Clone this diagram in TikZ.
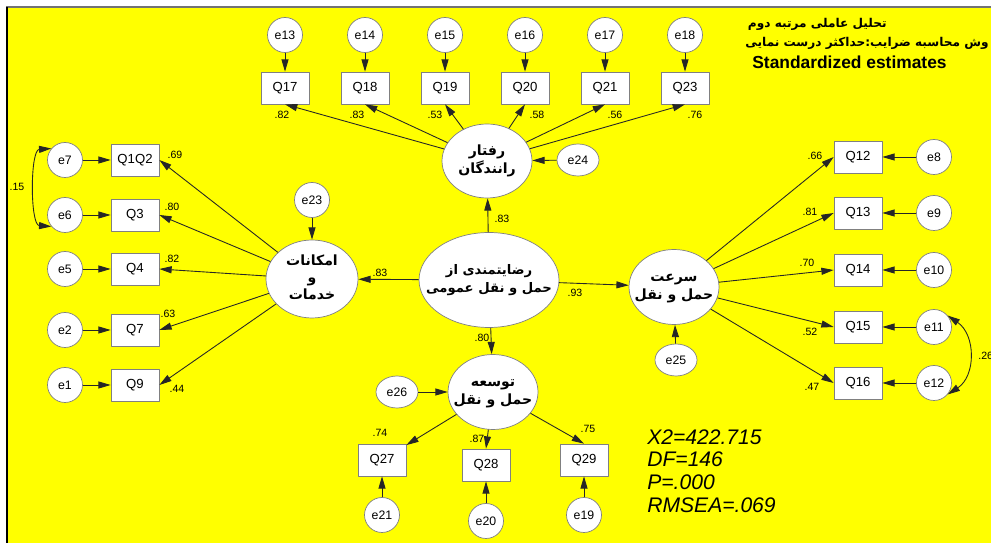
\documentclass[tikz,border=0pt]{standalone}
\usepackage{fontspec}
\setmainfont{Liberation Sans}
\newfontfamily\fafont[Script=Arabic]{DejaVu Sans}
\TeXXeTstate=1
\usetikzlibrary{arrows.meta,shapes.geometric}
\newcommand\rtltxt[1]{\beginR#1\endR}
\newcommand\lattxt[1]{\makebox[0pt]{\begin{tabular}{@{}c@{}}#1\end{tabular}}}
\definecolor{bgyellow}{RGB}{255,255,0}

\begin{document}
\begin{tikzpicture}[x=0.02cm,y=-0.02cm,>={Triangle[length=7pt,width=4pt]},line join=round,
	font=\fontsize{7.5}{9}\selectfont,
	obs/.style={draw=gray,fill=white,minimum width=0.96cm,minimum height=0.64cm,inner sep=0pt},
	err/.style={circle,draw=gray,fill=white,minimum size=0.7cm,inner sep=0pt,font=\fontsize{7}{8}\selectfont},
	errl/.style={ellipse,draw=gray,fill=white,minimum width=0.84cm,minimum height=0.64cm,inner sep=0pt,font=\fontsize{7}{8}\selectfont},
	lat/.style={ellipse,draw=gray,fill=white,inner sep=0pt,font=\fafont\bfseries\fontsize{8}{10.5}\selectfont},
	est/.style={font=\fontsize{6}{7}\selectfont,inner sep=0pt},
	link/.style={->,draw=black!85,line width=0.5pt}]
	\useasboundingbox (0,0) rectangle (991,543);
	\clip (0,0) rectangle (991,543);
	\fill[white] (0,0) rectangle (991,543);
	\fill[bgyellow] (7,7) rectangle (991,543);
	\draw[gray!90!black,line width=1.2pt] (6,7)--(991,7);
	\draw[line width=0.9pt] (7,7)--(7,543);
	% latent variables
	\node[lat,minimum width=2.8cm,minimum height=1.9cm,font=\fafont\bfseries\fontsize{7.5}{10.5}\selectfont] (sat) at (489,280) {\lattxt{\rtltxt{رضایتمندی از}\\\rtltxt{حمل و نقل عمومی}}};
	\node[lat,minimum width=1.8cm,minimum height=1.48cm] (rft) at (487,161) {\lattxt{\rtltxt{رفتار}\\\rtltxt{رانندگان}}};
	\node[lat,minimum width=1.84cm,minimum height=1.56cm,font=\fafont\bfseries\fontsize{8}{9.6}\selectfont] (emk) at (312,279) {\lattxt{\rtltxt{امکانات}\\\rtltxt{و}\\\rtltxt{خدمات}}};
	\node[lat,minimum width=1.8cm,minimum height=1.5cm] (srt) at (674,287) {\lattxt{\rtltxt{سرعت}\\\rtltxt{حمل و نقل}}};
	\node[lat,minimum width=1.8cm,minimum height=1.5cm] (tws) at (493,392) {\lattxt{\rtltxt{توسعه}\\\rtltxt{حمل و نقل}}};
	\draw[link] (sat) -- (rft);
	\draw[link] (sat) -- (emk);
	\draw[link] (sat) -- (srt);
	\draw[link] (sat) -- (tws);
	\node[est] (lrft) at (502,219) {.83};
	\node[est] (lemk) at (380,273) {.83};
	\node[est] (lsrt) at (575,293) {.93};
	\node[est] (ltws) at (482,338) {.80};
	% disturbances
	\node[errl] (e24) at (578,160) {e24};
	\node[err] (e23) at (312,200) {e23};
	\node[errl] (e25) at (676,360) {e25};
	\node[errl] (e26) at (397,392) {e26};
	\draw[link] (e24) -- (rft);
	\draw[link] (e23) -- (emk);
	\draw[link] (e25) -- (srt);
	\draw[link] (e26) -- (tws);
	% indicators on top
	\foreach \q/\e/\x/\lx/\v in {Q17/e13/285/282/.82,Q18/e14/365/357/.83,Q19/e15/445/435/.53,Q20/e16/525/537/.58,Q21/e17/605/615/.56,Q23/e18/685/695/.76}{
		\node[obs] (\q) at (\x,88) {\q};
		\node[err] (\e) at (\x,35) {\e};
		\node[est] (l\q) at (\lx,115) {\v};
		\draw[link] (\e) -- (\q);
		\draw[link] (rft) -- (\q.south);
	}
	% indicators on the left
	\foreach \q/\e/\y/\lx/\ly/\v in {Q1Q2/e7/160/175/155/.69,Q3/e6/215/172/207/.80,Q4/e5/269/172/259/.82,Q7/e2/330/168/314/.63,Q9/e1/385/177/389/.44}{
		\node[obs] (\q) at (135,\y) {\q};
		\node[err] (\e) at (65,\y) {\e};
		\node[est] (l\q) at (\lx,\ly) {\v};
		\draw[link] (\e) -- (\q);
		\draw[link] (emk) -- (\q.east);
	}
	% indicators on the right
	\foreach \q/\e/\y/\lx/\ly/\v in {Q12/e8/157/815/156/.66,Q13/e9/213/810/212/.81,Q14/e10/270/807/263/.70,Q15/e11/327/810/332/.52,Q16/e12/383/812/387/.47}{
		\node[obs] (\q) at (858,\y) {\q};
		\node[err] (\e) at (934,\y) {\e};
		\node[est] (l\q) at (\lx,\ly) {\v};
		\draw[link] (\e) -- (\q);
		\draw[link] (srt) -- (\q.west);
	}
	% indicators below
	\foreach \q/\e/\x/\y/\ey/\t/\lx/\ly/\v in {Q27/e21/382/460/515/Q27/380/433/.74,Q28/e20/486/465/521/Q28.north/477/439/.87,Q29/e19/584/460/515/Q29.north/588/429/.75}{
		\node[obs] (\q) at (\x,\y) {\q};
		\node[err] (\e) at (\x,\ey) {\e};
		\node[est] (l\q) at (\lx,\ly) {\v};
		\draw[link] (\e) -- (\q);
		\draw[link] (tws) -- (\t);
	}
	% covariances
	\draw[<->,draw=black!85,line width=0.5pt] (e7.140) .. controls (30,150) and (30,225) .. (e6.220);
	\node[est] (c76) at (17,187) {.15};
	\draw[<->,draw=black!85,line width=0.5pt] (e11.40) .. controls (976,335) and (976,376) .. (e12.320);
	\node[est,anchor=west] (c1112) at (978,356) {.26};
	% titles and fit
	\node[anchor=east,inner sep=0pt,font=\fafont\bfseries\fontsize{6.9}{9}\selectfont] (t1) at (887,24) {\rtltxt{تحلیل عاملی مرتبه دوم}};
	\node[anchor=east,inner sep=0pt,font=\fafont\bfseries\fontsize{6.9}{9}\selectfont] (t2) at (989,43) {\rtltxt{وش محاسبه ضرایب:حداکثر درست نمایی}};
	\node[anchor=west,inner sep=0pt,font=\bfseries\fontsize{9.9}{11}\selectfont] (t3) at (752,62) {Standardized estimates};
	\node[anchor=north west,align=left,inner sep=0pt,font=\itshape\fontsize{12}{13}\selectfont] (fit) at (647,429) {X2=422.715\\DF=146\\P=.000\\RMSEA=.069};
\end{tikzpicture}
\end{document}
